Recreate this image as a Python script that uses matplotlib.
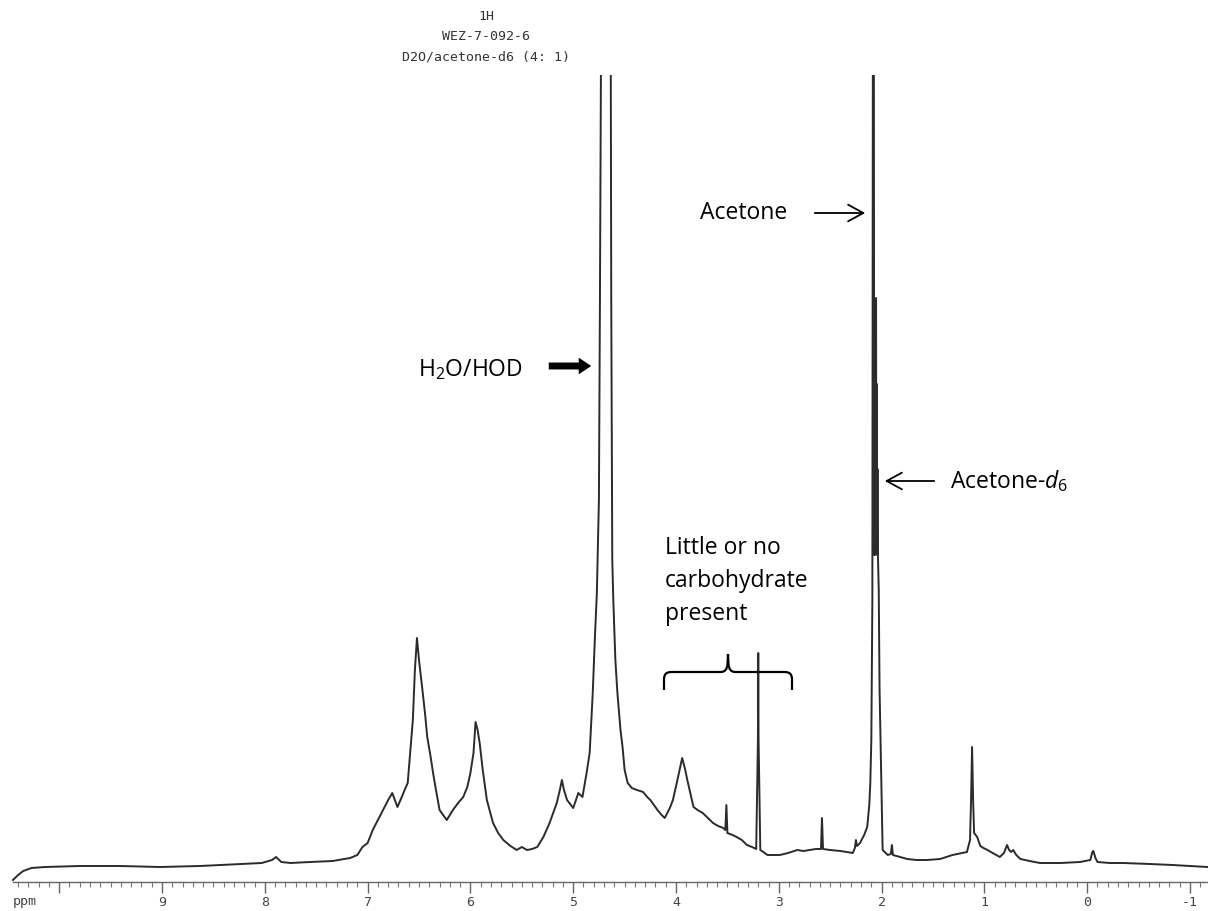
import numpy as np
import matplotlib
matplotlib.use("Agg")
import matplotlib.pyplot as plt
from matplotlib.path import Path
from matplotlib.patches import PathPatch, FancyArrowPatch

# ---------- Spectrum trace (ppm, intensity) ----------
baseline_ppm = [10.45, 10.40, 10.35, 10.27, 10.14, 9.80, 9.41, 9.02, 8.63, 8.24,
                8.03, 7.93, 7.89, 7.84, 7.75, 7.56, 7.34, 7.17, 7.10]
baseline_int = [9, 14, 18, 21, 22, 23, 23, 22, 23, 25,
                26, 29, 32, 27, 26, 27, 28, 31, 34]

aromatic_ppm = [7.05, 7.00, 6.95, 6.90, 6.85, 6.80, 6.76, 6.71, 6.68, 6.64,
                6.61, 6.58, 6.56, 6.54, 6.52, 6.50, 6.47, 6.44, 6.42, 6.39,
                6.36, 6.34, 6.30, 6.23, 6.17, 6.12, 6.07, 6.03, 6.00, 5.97,
                5.95, 5.93, 5.91, 5.88, 5.84, 5.78, 5.73, 5.68, 5.61, 5.55,
                5.50, 5.45, 5.40, 5.35, 5.29]
aromatic_int = [42, 46, 59, 69, 79, 89, 96, 82, 89, 99,
                106, 144, 169, 219, 251, 229, 202, 174, 152, 134,
                114, 102, 79, 69, 79, 86, 92, 102, 116, 136,
                167, 159, 146, 119, 89, 66, 56, 49, 43, 39,
                42, 39, 40, 42, 52]

water_ppm = [5.23, 5.16, 5.13, 5.11, 5.09, 5.06, 5.00, 4.95, 4.91, 4.87,
             4.84, 4.81, 4.79, 4.77, 4.75, 4.74, 4.73, 4.72, 4.64, 4.63,
             4.62, 4.61, 4.59, 4.57, 4.54, 4.52, 4.50, 4.47, 4.43, 4.38,
             4.32, 4.28, 4.25, 4.18, 4.14, 4.11]
water_int = [66, 86, 99, 109, 99, 89, 81, 96, 92, 116,
             136, 196, 249, 296, 389, 589, 814, 1100, 1100, 589,
             329, 289, 229, 196, 159, 142, 119, 106, 101, 99,
             97, 92, 89, 79, 74, 71]

mid_ppm = [4.06, 4.03, 3.98, 3.94, 3.91, 3.89, 3.83, 3.79, 3.74, 3.69,
           3.64, 3.59, 3.54, 3.52, 3.51, 3.50, 3.45, 3.41, 3.36, 3.31,
           3.26, 3.22, 3.203, 3.20, 3.197, 3.18, 3.15, 3.11, 3.06, 2.99,
           2.91, 2.82, 2.76, 2.70, 2.64, 2.59, 2.58, 2.57, 2.50, 2.40,
           2.34, 2.28, 2.26, 2.25, 2.24, 2.21, 2.17, 2.14, 2.12, 2.11,
           2.10, 2.09]
mid_int = [81, 89, 112, 131, 119, 109, 82, 79, 76, 71,
           66, 63, 61, 59, 84, 56, 54, 52, 49, 44,
           42, 40, 150, 236, 150, 39, 37, 34, 34, 34,
           36, 39, 38, 39, 40, 40, 71, 40, 39, 38,
           37, 36, 41, 49, 43, 46, 54, 62, 84, 106,
           149, 289]

# acetone singlet + acetone-d6 quintet
acetone_ppm = [2.083, 2.077, 2.072, 2.068, 2.065, 2.061, 2.058, 2.054, 2.051,
               2.047, 2.044, 2.040, 2.036, 2.028, 2.020]
acetone_int = [1100, 1100, 334, 420, 334, 505, 340, 591, 340,
               505, 334, 420, 334, 300, 200]

upfield_ppm = [2.00, 1.99, 1.94, 1.91, 1.90, 1.89, 1.82, 1.75, 1.66, 1.56,
               1.43, 1.31, 1.22, 1.17, 1.14, 1.13, 1.12, 1.11, 1.10, 1.07,
               1.04, 1.01, 0.97, 0.92, 0.85, 0.81, 0.78, 0.76, 0.74, 0.72,
               0.69, 0.65, 0.56, 0.46, 0.26, 0.07, -0.03, -0.05, -0.06, -0.08,
               -0.10, -0.22, -0.35, -0.61, -0.83, -1.00, -1.17]
upfield_int = [89, 39, 34, 35, 44, 34, 32, 30, 29, 29,
               30, 34, 36, 37, 49, 89, 142, 89, 56, 52,
               43, 41, 39, 36, 32, 36, 44, 39, 37, 39,
               34, 30, 28, 26, 26, 27, 29, 37, 38, 31,
               27, 26, 26, 25, 24, 23, 22]

tick_ppm = list(range(-1, 11))
tick_labels = ["-1", "0", "1", "2", "3", "4", "5", "6", "7", "8", "9", ""]

header = ["1H", "WEZ-7-092-6", "D2O/acetone-d6 (4: 1)"]

# ---------- Figure ----------
W, H = 1208, 911
fig = plt.figure(figsize=(W / 100, H / 100), dpi=100)
plt.rcParams['mathtext.fontset'] = 'custom'
plt.rcParams['mathtext.rm'] = 'Open Sans'
plt.rcParams['mathtext.it'] = 'Open Sans:italic'


def fpx(x, y):
    # pixel position -> figure fraction
    return (x / W, 1 - y / H)


ax = fig.add_axes([0, 1 - 882 / H, 1, (882 - 75) / H])
ppm = np.concatenate([baseline_ppm, aromatic_ppm, water_ppm, mid_ppm, acetone_ppm, upfield_ppm])
inten = np.concatenate([baseline_int, aromatic_int, water_int, mid_int, acetone_int, upfield_int])
ax.plot(ppm, inten, color="#2b2b2b", lw=1.4, solid_joinstyle="round")

ax.set_xlim(10.576, -1.175)
ax.set_ylim(7, 814)
for s in ["top", "left", "right"]:
    ax.spines[s].set_visible(False)
ax.spines["bottom"].set_bounds(10.45, -1.175)
ax.spines["bottom"].set_color("#666666")
ax.spines["bottom"].set_linewidth(1.0)
ax.set_yticks([])
ax.set_xticks(tick_ppm)
ax.set_xticklabels(tick_labels, family="DejaVu Sans Mono", fontsize=9.5, color="#444444")
ax.set_xticks(np.arange(-11, 105) / 10, minor=True)
ax.tick_params(axis="x", which="major", length=8, width=1, color="#666666", pad=2)
ax.tick_params(axis="x", which="minor", length=3.5, width=0.8, color="#777777")

fig.text(*fpx(25, 902), "ppm", family="DejaVu Sans Mono", fontsize=9.5, color="#444444",
         ha="center", va="center")

# header lines
for i, line in enumerate(header):
    fig.text(*fpx(486, 17 + 20 * i), line, family="DejaVu Sans Mono", fontsize=9.5,
             color="#333333", ha="center", va="center")

# ---------- Annotations ----------
font = dict(family="Open Sans", fontsize=16.5, color="black")

fig.text(*fpx(700, 213), "Acetone", ha="left", va="center", **font)
fig.add_artist(FancyArrowPatch(fpx(812, 213), fpx(868, 213), transform=fig.transFigure,
                               arrowstyle="->,head_length=0.55,head_width=0.3",
                               mutation_scale=20, lw=1.3, color="black"))

fig.text(*fpx(950, 481), r"Acetone-$\mathit{d}_{\mathit{6}}$", ha="left", va="center", **font)
fig.add_artist(FancyArrowPatch(fpx(937, 481), fpx(882, 481), transform=fig.transFigure,
                               arrowstyle="->,head_length=0.55,head_width=0.3",
                               mutation_scale=20, lw=1.3, color="black"))

fig.text(*fpx(418, 370), r"H$_2$O/HOD", ha="left", va="center", **font)
fig.add_artist(FancyArrowPatch(fpx(546, 366), fpx(594, 366), transform=fig.transFigure,
                               arrowstyle="simple,head_length=0.9,head_width=1.2,tail_width=0.5",
                               mutation_scale=10, lw=0, color="black"))

for i, line in enumerate(["Little or no", "carbohydrate", "present"]):
    fig.text(*fpx(665, 548 + 33 * i), line, ha="left", va="center", **font)

# curly bracket over 4.1 - 2.9 ppm
verts = [(664, 690), (664, 679), (664, 672), (671, 672), (721, 672), (727, 672), (727.5, 664),
         (728, 654), (728.5, 664), (729, 672), (735, 672), (785, 672), (792, 672), (792, 679),
         (792, 690)]
codes = [Path.MOVETO, Path.LINETO, Path.CURVE3, Path.CURVE3, Path.LINETO, Path.CURVE3, Path.CURVE3,
         Path.LINETO, Path.LINETO, Path.CURVE3, Path.CURVE3, Path.LINETO, Path.CURVE3, Path.CURVE3,
         Path.LINETO]
brace = Path([fpx(x, y) for x, y in verts], codes)
fig.add_artist(PathPatch(brace, transform=fig.transFigure, fill=False, lw=1.6, color="black"))

fig.savefig("out.png", dpi=100)
